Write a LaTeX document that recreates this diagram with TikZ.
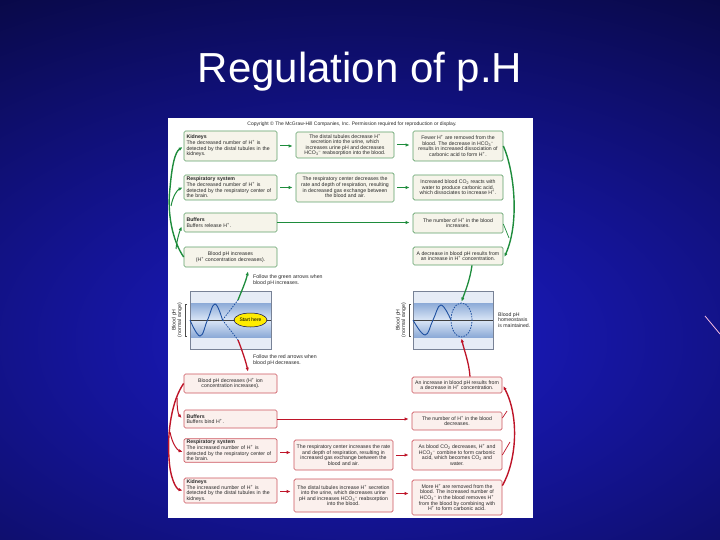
\documentclass[tikz,border=0pt]{standalone}
\usepackage{fontspec}
\setmainfont{Liberation Sans}
\usetikzlibrary{arrows.meta,calc,shapes.geometric}
\newcommand{\Hp}{H\textsuperscript{+}}
\newcommand{\HCOm}{HCO\textsubscript{3}\textsuperscript{--}}
\newcommand{\COt}{CO\textsubscript{2}}
\definecolor{bgin}{RGB}{28,28,205}
\definecolor{bgout}{RGB}{8,8,64}
\definecolor{gline}{RGB}{30,140,60}
\definecolor{gedge}{RGB}{95,160,105}
\definecolor{gfill}{RGB}{246,244,234}
\definecolor{rline}{RGB}{190,20,40}
\definecolor{redge}{RGB}{205,85,95}
\definecolor{rfill}{RGB}{251,240,237}
\definecolor{sinecol}{RGB}{30,80,160}
\definecolor{bandedge}{RGB}{140,170,215}
\definecolor{bandmid}{RGB}{218,230,246}
\definecolor{framefill}{RGB}{230,236,246}
\definecolor{frameedge}{RGB}{120,130,150}
\definecolor{txt}{RGB}{40,40,40}
\begin{document}
\begin{tikzpicture}[x=1pt,y=-1pt,
  box/.style={rounded corners=1.5pt, line width=0.7pt, inner sep=1.5pt,
    font=\fontsize{5.2}{5.6}\selectfont, text=txt, align=center},
  gbox/.style={box, draw=gedge, fill=gfill},
  rbox/.style={box, draw=redge, fill=rfill},
  lbox/.style={text width=88pt, align=left},
  lab/.style={font=\fontsize{5.2}{5.6}\selectfont, text=txt, inner sep=0pt},
  gtip/.style={-{Latex[length=4pt,width=3.4pt]}},
  garrow/.style={draw=gline, line width=1pt, gtip},
  gtrunk/.style={draw=gline, line width=1.4pt, gtip},
  gthin/.style={draw=gline, line width=0.7pt},
  rarrow/.style={draw=rline, line width=1pt, gtip},
  rtrunk/.style={draw=rline, line width=1.4pt, gtip},
  rthin/.style={draw=rline, line width=0.7pt},
  sine/.style={draw=sinecol, line width=0.9pt},
  dsine/.style={draw=sinecol, line width=0.8pt, dash pattern=on 1.5pt off 1.2pt}
]
\useasboundingbox (0,0) rectangle (720,540);
\begin{scope}
  \clip (0,0) rectangle (720,540);
  \shade[inner color=bgin, outer color=bgout] (-400,-80) rectangle (1120,760);
\end{scope}
\draw[white!75!magenta, line width=0.8pt] (705,316) -- (720,334);

\node[text=white, font=\fontsize{42}{46}\selectfont, anchor=base, inner sep=0] (title) at (360,83) {Regulation of p.H};

\fill[white] (168,118) rectangle (533,518);
\node[lab, font=\fontsize{5}{5.5}\selectfont] (copy) at (352,124) {Copyright \textcopyright\ The McGraw-Hill Companies, Inc. Permission required for reproduction or display.};

% ---------- green (top) boxes ----------
\node[gbox, lbox, minimum width=93pt, minimum height=30pt] (gL1) at (230.5,146) {\textbf{Kidneys}\\The decreased number of \Hp{} is\\detected by the distal tubules in the\\kidneys.};
\node[gbox, lbox, minimum width=93pt, minimum height=25pt] (gL2) at (230.5,187.5) {\textbf{Respiratory system}\\The decreased number of \Hp{} is\\detected by the respiratory center of\\the brain.};
\node[gbox, lbox, minimum width=93pt, minimum height=19pt] (gL3) at (230.5,222.5) {\textbf{Buffers}\\Buffers release \Hp.};
\node[gbox, minimum width=93pt, minimum height=20pt] (gL4) at (230.5,257) {Blood pH increases\\(\Hp{} concentration decreases).};
\node[gbox, minimum width=98pt, minimum height=26pt] (gM1) at (345,145) {The distal tubules decrease \Hp\\secretion into the urine, which\\increases urine pH and decreases\\\HCOm{} reabsorption into the blood.};
\node[gbox, minimum width=98pt, minimum height=29pt] (gM2) at (345,187.5) {The respiratory center decreases the\\rate and depth of respiration, resulting\\in decreased gas exchange between\\the blood and air.};
\node[gbox, minimum width=90pt, minimum height=30pt] (gR1) at (458,146) {Fewer \Hp{} are removed from the\\blood. The decrease in \HCOm\\results in increased dissociation of\\carbonic acid to form \Hp.};
\node[gbox, minimum width=90pt, minimum height=25pt] (gR2) at (458,187.5) {Increased blood \COt{} reacts with\\water to produce carbonic acid,\\which dissociates to increase \Hp.};
\node[gbox, minimum width=90pt, minimum height=20pt] (gR3) at (458,223) {The number of \Hp{} in the blood\\increases.};
\node[gbox, minimum width=90pt, minimum height=18pt] (gR4) at (458,256) {A decrease in blood pH results from\\an increase in \Hp{} concentration.};

% ---------- red (bottom) boxes ----------
\node[rbox, minimum width=93pt, minimum height=19pt] (rL1) at (230.5,383.5) {Blood pH decreases (\Hp{} ion\\concentration increases).};
\node[rbox, lbox, minimum width=93pt, minimum height=18pt] (rL2) at (230.5,419) {\textbf{Buffers}\\Buffers bind \Hp.};
\node[rbox, lbox, minimum width=93pt, minimum height=23pt] (rL3) at (230.5,450.5) {\textbf{Respiratory system}\\The increased number of \Hp{} is\\detected by the respiratory center of\\the brain.};
\node[rbox, lbox, minimum width=93pt, minimum height=25pt] (rL4) at (230.5,490.5) {\textbf{Kidneys}\\The increased number of \Hp{} is\\detected by the distal tubules in the\\kidneys.};
\node[rbox, minimum width=99pt, minimum height=30pt] (rM3) at (343.5,455) {The respiratory center increases the rate\\and depth of respiration, resulting in\\increased gas exchange between the\\blood and air.};
\node[rbox, minimum width=99pt, minimum height=33pt] (rM4) at (343.5,495.5) {The distal tubules increase \Hp{} secretion\\into the urine, which decreases urine\\pH and increases \HCOm{} reabsorption\\into the blood.};
\node[rbox, minimum width=90pt, minimum height=16pt] (rR1) at (457,385) {An increase in blood pH results from\\a decrease in \Hp{} concentration.};
\node[rbox, minimum width=90pt, minimum height=18pt] (rR2) at (457,421) {The number of \Hp{} in the blood\\decreases.};
\node[rbox, minimum width=90pt, minimum height=30pt] (rR3) at (457,455) {As blood \COt{} decreases, \Hp{} and\\\HCOm{} combine to form carbonic\\acid, which becomes \COt{} and\\water.};
\node[rbox, minimum width=90pt, minimum height=35pt] (rR4) at (457,497.5) {More \Hp{} are removed from the\\blood. The increased number of\\\HCOm{} in the blood removes \Hp\\from the blood by combining with\\\Hp{} to form carbonic acid.};

% ---------- horizontal arrows ----------
\draw[garrow] ($(gL1.east)+(3,0)$) -- ($(gM1.west |- gL1.east)+(-3,0)$);
\draw[garrow] ($(gM1.east)+(3,0)$) -- ($(gR1.west |- gM1.east)+(-3,0)$);
\draw[garrow] ($(gL2.east)+(3,0)$) -- ($(gM2.west |- gL2.east)+(-3,0)$);
\draw[garrow] ($(gM2.east)+(3,0)$) -- ($(gR2.west |- gM2.east)+(-3,0)$);
\draw[garrow] (gL3.east) -- ($(gR3.west |- gL3.east)+(-3,0)$);
\draw[rarrow] (rL2.east) -- ($(rR2.west |- rL2.east)+(-3,0)$);
\draw[rarrow] ($(rL3.east)+(3,2)$) -- ($(rM3.west |- rL3.east)+(-3,2)$);
\draw[rarrow] ($(rM3.east)+(3,0)$) -- ($(rR3.west |- rM3.east)+(-3,0)$);
\draw[rarrow] ($(rL4.east)+(3,1)$) -- ($(rM4.west |- rL4.east)+(-3,1)$);
\draw[rarrow] ($(rM4.east)+(3,-2)$) -- ($(rR4.west |- rM4.east)+(-3,-2)$);

% ---------- green curved arrows ----------
\coordinate (gj1) at (171,206);
\coordinate (gj2) at (176,249);
\draw[gtrunk] (gL4.west) .. controls (172,240) and (167,212) .. (170,188) .. controls (172,165) and (175,152) .. ($(gL1.west)+(-1,1)$);
\draw[garrow] (gj1) .. controls (173,196) and (177,190) .. ($(gL2.west)+(-1,0)$);
\draw[garrow] (gj2) .. controls (177,240) and (179,233) .. ($(gL3.west)+(-2,4)$);
\draw[gtrunk] (gR1.east) .. controls (514,170) and (520,222) .. ($(gR4.east)+(1,1)$);
\draw[gthin] ($(gR3.east)+(0,1)$) -- (509,238);

% ---------- red curved arrows ----------
\coordinate (rj1) at (177,398);
\coordinate (rj2) at (170,432);
\draw[rtrunk] (rL1.west) .. controls (172,400) and (167,432) .. (169,458) .. controls (170,478) and (176,489) .. ($(rL4.west)+(-1,0)$);
\draw[rarrow] (rj1) .. controls (177,408) and (178,414) .. ($(rL2.west)+(-2,-1)$);
\draw[rarrow] (rj2) .. controls (172,443) and (177,450) .. ($(rL3.west)+(-1,1.5)$);
\draw[rtrunk] ($(rR4.north east)+(0,6)$) .. controls (516,462) and (520,418) .. ($(rR1.east)+(1,1)$);
\draw[rthin] (rR3.east) -- (510,442);
\draw[rthin] ($(rR2.east)+(0,-3)$) -- (507,411);

% ---------- left graph ----------
\fill[framefill] (190,291) rectangle (271,349);
\shade[top color=bandedge, bottom color=bandedge, middle color=bandmid] (190,303) rectangle (271,337);
\draw[frameedge, line width=0.5pt] (190,291) rectangle (271,349);
\draw[black!75, line width=0.5pt] (190,320) -- (271,320);
\draw[sine] plot[smooth, tension=0.7] coordinates {(190,320) (200,336) (207.5,320) (215,304) (222.5,320)};
\coordinate (gstart) at (238,300);
\coordinate (rstart) at (238,340);
\draw[dsine] (222.5,320) -- (gstart);
\draw[dsine] (222.5,320) -- (rstart);
\node[ellipse, draw=black!70!blue, line width=0.5pt, fill={rgb,255:red,255;green,236;blue,0}, minimum width=33pt, minimum height=14pt, inner sep=0pt, font=\fontsize{5}{5.5}\selectfont] (start) at (250.5,320) {Start here};
\draw[black!70, line width=0.4pt] (187,304) -- (185,304) -- (185,336) -- (187,336);
\node[lab, rotate=90, align=center] (yl1) at (177,320) {Blood pH\\(normal range)};

% ---------- right graph ----------
\fill[framefill] (413,291) rectangle (493,349);
\shade[top color=bandedge, bottom color=bandedge, middle color=bandmid] (413,303) rectangle (493,337);
\draw[frameedge, line width=0.5pt] (413,291) rectangle (493,349);
\draw[black!75, line width=0.5pt] (413,320) -- (493,320);
\draw[sine] plot[smooth, tension=0.7] coordinates {(413,320) (425,335) (433,320) (441,305) (451,320)};
\node[draw=sinecol, line width=0.8pt, dash pattern=on 1.5pt off 1.2pt, ellipse, minimum width=21pt, minimum height=34pt, inner sep=0pt] (circ) at (461.5,320) {};
\draw[black!70, line width=0.4pt] (411,304) -- (409,304) -- (409,336) -- (411,336);
\node[lab, rotate=90, align=center] (yl2) at (401,320) {Blood pH\\(normal range)};
\node[lab, anchor=west, align=left] (hom) at (498,320) {Blood pH\\homeostasis\\is maintained.};

% ---------- vertical arrows ----------
\draw[garrow, line width=1.3pt] (gstart) .. controls (242,290) and (246,281) .. ($(gL4.south)+(17.5,4)$);
\draw[rarrow, line width=1.3pt] (rstart) .. controls (242,350) and (246,362) .. ($(rL1.north)+(17.5,-2)$);
\draw[garrow, line width=1.3pt] ($(gR4.south)+(14,0)$) .. controls (470,280) and (465,292) .. ($(circ.north)+(0,-1)$);
\draw[rarrow, line width=1.3pt] ($(rR1.north)+(13,0)$) .. controls (469,362) and (464,350) .. ($(circ.south)+(0,1)$);
\node[lab, anchor=west, align=left] (fg) at (253,280) {Follow the green arrows when\\blood pH increases.};
\node[lab, anchor=west, align=left] (fr) at (253,360) {Follow the red arrows when\\blood pH decreases.};
\end{tikzpicture}
\end{document}
